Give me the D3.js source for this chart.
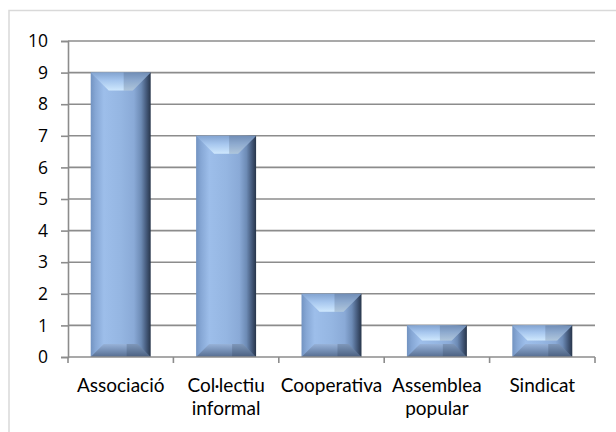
<!DOCTYPE html>
<html>
<head>
<meta charset="utf-8">
<script src="https://cdn.jsdelivr.net/npm/d3@7"></script>
<style>
  html, body { margin: 0; padding: 0; background: #fff; }
  svg { display: block; font-family: "Open Sans", Lato, "Liberation Sans", sans-serif; }
</style>
</head>
<body>
<svg id="chart" width="616" height="432"></svg>
<script>
// Organisation types and their counts
const categories = ["Associació", "Col·lectiu informal", "Cooperativa", "Assemblea popular", "Sindicat"];
const categoryLines = [["Associació"], ["Col·lectiu", "informal"], ["Cooperativa"], ["Assemblea", "popular"], ["Sindicat"]];
const values = [9, 7, 2, 1, 1];
const yTicks = [0, 1, 2, 3, 4, 5, 6, 7, 8, 9, 10];

const svg = d3.select("#chart");
const W = 616, H = 432;
const plot = { left: 68, right: 595, top: 41, bottom: 357 };

// Outer chart frame
svg.append("rect")
  .attr("x", 9).attr("y", 10.5)
  .attr("width", W + 10).attr("height", H + 10)
  .attr("fill", "#fff")
  .attr("stroke", "#d9d9d9").attr("stroke-width", 1.5);

const x = d3.scaleBand()
  .domain(categories)
  .range([plot.left, plot.right])
  .paddingInner(0.431)
  .paddingOuter(0.2155);

const y = d3.scaleLinear()
  .domain([0, 10])
  .range([plot.bottom, plot.top]);

// Gradients for the bevelled bar faces
const defs = svg.append("defs");
function grad(id, x2, y2, stops) {
  const g = defs.append("linearGradient")
    .attr("id", id)
    .attr("x1", 0).attr("y1", 0).attr("x2", x2).attr("y2", y2);
  stops.forEach(([o, c]) => g.append("stop").attr("offset", o).attr("stop-color", c));
}
grad("bodyGrad", 1, 0, [
  [0, "#7293c1"], [0.08, "#86a7d5"], [0.22, "#9dbeea"], [0.5, "#95b6e2"],
  [0.72, "#8aaad7"], [0.84, "#6d8bb5"], [0.93, "#44597a"], [1, "#27354a"]
]);
grad("topGrad", 0, 1, [
  [0, "#83a4d1"], [0.45, "#a6c6ee"], [1, "#cfe8fd"]
]);
grad("bottomGrad", 0, 1, [
  [0, "#97b2d8"], [0.5, "#7690b6"], [1, "#566d90"]
]);

// Gridlines
const grid = svg.append("g");
grid.selectAll("line")
  .data(yTicks.filter(d => d > 0))
  .join("line")
  .attr("x1", plot.left).attr("x2", plot.right)
  .attr("y1", d => y(d)).attr("y2", d => y(d))
  .attr("stroke", "#8c8c8c").attr("stroke-width", 1.6);

// Y axis
const yAxis = svg.append("g")
  .attr("transform", `translate(${plot.left},0)`)
  .call(d3.axisLeft(y).tickValues(yTicks).tickSize(7).tickPadding(13).tickFormat(d3.format("d")));
yAxis.select(".domain").attr("stroke", "#8c8c8c").attr("stroke-width", 1.6);
yAxis.selectAll(".tick line").attr("stroke", "#8c8c8c").attr("stroke-width", 1.6);
yAxis.selectAll(".tick text")
  .attr("font-size", 17.5).attr("fill", "#000")
  .attr("font-family", "'Open Sans', Lato, sans-serif");

// Bars
const step = x.step();
const bars = svg.append("g");
categories.forEach((cat, i) => {
  const bx = x(cat), bw = x.bandwidth();
  const by = y(values[i]), bh = y(0) - y(values[i]);
  const g = bars.append("g");
  g.append("rect")
    .attr("x", bx).attr("y", by).attr("width", bw).attr("height", bh)
    .attr("fill", "url(#bodyGrad)");
  const bt = Math.min(18, bh * 0.48);
  const bb = Math.min(13, bh * 0.42);
  g.append("path")
    .attr("d", `M${bx},${by}L${bx + bw},${by}L${bx + bw - bt},${by + bt}L${bx + bt},${by + bt}Z`)
    .attr("fill", "url(#topGrad)");
  // darker right-hand corner of the top face
  g.append("path")
    .attr("d", `M${bx + bw * 0.55},${by}L${bx + bw},${by}L${bx + bw - bt},${by + bt}L${bx + bw * 0.55},${by + bt}Z`)
    .attr("fill", "#1f2c40").attr("opacity", 0.18);
  g.append("path")
    .attr("d", `M${bx},${by + bh}L${bx + bw},${by + bh}L${bx + bw - bb},${by + bh - bb}L${bx + bb},${by + bh - bb}Z`)
    .attr("fill", "url(#bottomGrad)");
  g.append("path")
    .attr("d", `M${bx + bw * 0.6},${by + bh}L${bx + bw},${by + bh}L${bx + bw - bb},${by + bh - bb}L${bx + bw * 0.6},${by + bh - bb}Z`)
    .attr("fill", "#1f2c40").attr("opacity", 0.2);
});

// X axis baseline and category ticks
const xAxis = svg.append("g");
xAxis.append("line")
  .attr("x1", plot.left).attr("x2", plot.right)
  .attr("y1", y(0)).attr("y2", y(0))
  .attr("stroke", "#8c8c8c").attr("stroke-width", 1.6);
const bounds = categories.map(c => x(c) - step * x.paddingInner() / 2).concat([plot.right]);
xAxis.selectAll("line.tick")
  .data(bounds)
  .join("line").attr("class", "tick")
  .attr("x1", d => d).attr("x2", d => d)
  .attr("y1", y(0)).attr("y2", y(0) + 6)
  .attr("stroke", "#8c8c8c").attr("stroke-width", 1.6);

// Category labels
categories.forEach((cat, i) => {
  const t = xAxis.append("text")
    .attr("x", x(cat) + x.bandwidth() / 2)
    .attr("y", 392)
    .attr("text-anchor", "middle")
    .attr("font-family", "Lato, 'Open Sans', sans-serif")
    .attr("font-size", 19).attr("fill", "#000");
  categoryLines[i].forEach((ln, j) => {
    t.append("tspan")
      .attr("x", x(cat) + x.bandwidth() / 2)
      .attr("dy", j === 0 ? 0 : 23)
      .text(ln);
  });
});
</script>
</body>
</html>
